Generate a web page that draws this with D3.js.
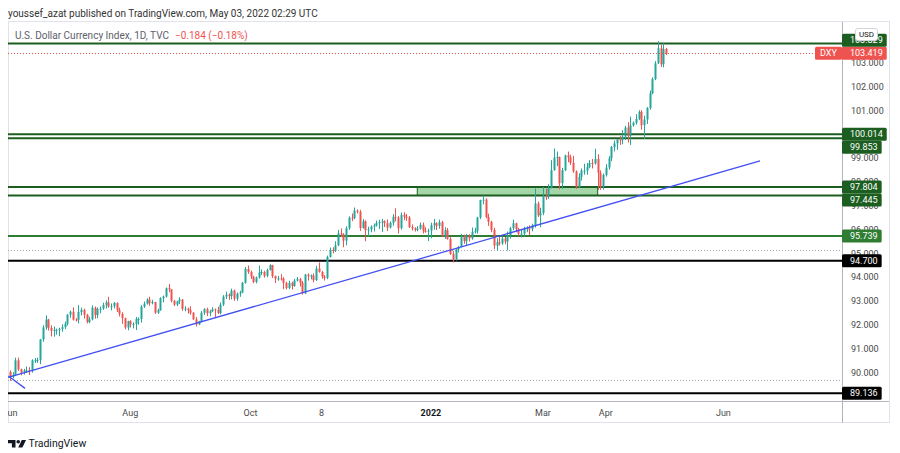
<!DOCTYPE html>
<html><head><meta charset="utf-8">
<script src="https://cdn.jsdelivr.net/npm/d3@7"></script>
<style>
html,body{margin:0;padding:0;background:#fff;}
svg{display:block;font-family:Roboto,"Liberation Sans",Arial,sans-serif;}
</style></head><body>
<svg id="c" width="900" height="453"></svg>
<script>
// Daily OHLC bars, 1 Jun 2021 .. 3 May 2022 (bar index = trading day)
const candles = [
[90.03,90.10,89.66,89.83],[89.83,90.02,89.76,89.91],[89.91,90.63,89.86,90.52],[90.52,90.63,90.08,90.14],
[90.14,90.17,89.89,90.00],[90.00,90.16,89.92,90.09],[90.09,90.26,89.99,90.10],[90.10,90.23,89.90,90.07],
[90.07,90.56,90.00,90.52],[90.52,90.61,90.41,90.52],[90.52,90.63,90.41,90.54],[90.54,91.41,90.36,91.40],
[91.40,91.99,91.30,91.90],[91.90,92.41,91.80,92.23],[92.23,92.26,91.77,91.88],[91.88,91.99,91.52,91.76],
[91.76,91.94,91.51,91.80],[91.80,91.85,91.60,91.80],[91.80,91.89,91.53,91.84],[91.84,92.03,91.72,91.91],
[91.91,92.15,91.83,92.06],[92.06,92.46,91.98,92.44],
[92.44,92.61,92.31,92.56],[92.56,92.74,92.19,92.23],[92.23,92.29,92.15,92.22],[92.22,92.84,92.07,92.55],
[92.55,92.73,92.40,92.64],[92.64,92.69,92.27,92.43],[92.43,92.47,92.07,92.13],[92.13,92.35,92.08,92.24],
[92.24,92.83,92.20,92.73],[92.73,92.78,92.27,92.42],[92.42,92.74,92.29,92.68],[92.68,92.78,92.50,92.69],
[92.69,92.94,92.64,92.85],[92.85,93.04,92.70,92.95],[92.95,93.19,92.73,92.78],[92.78,92.91,92.62,92.79],
[92.79,92.97,92.70,92.93],[92.93,92.95,92.55,92.64],[92.64,92.73,92.36,92.47],[92.47,92.54,92.05,92.29],
[92.29,92.31,91.82,91.90],[91.90,92.18,91.78,92.17],
[92.17,92.20,91.90,92.03],[92.03,92.12,91.86,92.05],[92.05,92.34,91.79,92.26],[92.26,92.32,92.02,92.26],
[92.26,92.84,92.10,92.78],[92.78,92.99,92.72,92.90],[92.90,93.13,92.86,93.07],[93.07,93.19,92.81,92.92],
[92.92,93.06,92.87,92.97],[92.97,92.98,92.47,92.52],[92.52,92.69,92.47,92.63],[92.63,93.17,92.60,93.13],
[93.13,93.24,92.96,93.20],[93.20,93.58,93.16,93.55],[93.55,93.73,93.38,93.50],[93.50,93.51,92.95,93.02],
[93.02,93.05,92.80,92.86],[92.86,93.02,92.80,93.00],[93.00,93.17,92.88,93.07],[93.07,93.09,92.60,92.68],
[92.68,92.79,92.58,92.69],[92.69,92.73,92.48,92.63],
[92.63,92.79,92.44,92.52],[92.52,92.54,92.22,92.24],[92.24,92.34,91.94,92.03],[92.03,92.18,92.00,92.16],
[92.16,92.59,92.12,92.52],[92.52,92.71,92.43,92.67],[92.67,92.73,92.38,92.50],[92.50,92.64,92.37,92.58],
[92.58,92.75,92.55,92.66],[92.66,92.70,92.32,92.63],[92.63,92.77,92.46,92.51],[92.51,92.95,92.45,92.86],
[92.86,93.26,92.80,93.20],[93.20,93.41,93.09,93.28],[93.28,93.33,93.06,93.22],[93.22,93.53,93.08,93.45],
[93.45,93.49,93.02,93.11],[93.11,93.37,93.02,93.32],[93.32,93.44,93.19,93.37],[93.37,93.81,93.34,93.78],
[93.78,94.44,93.74,94.36],[94.36,94.50,94.15,94.23],
[94.23,94.29,93.94,94.04],[94.04,94.07,93.76,93.81],[93.81,94.04,93.75,94.00],[94.00,94.50,93.95,94.21],
[94.21,94.34,94.10,94.23],[94.23,94.28,93.99,94.07],[94.07,94.37,94.01,94.31],[94.31,94.56,94.29,94.52],
[94.52,94.53,93.98,94.06],[94.06,94.08,93.77,93.95],[93.95,94.07,93.86,93.96],[93.96,94.14,93.87,93.95],
[93.95,94.01,93.51,93.77],[93.77,93.82,93.50,93.56],[93.56,93.86,93.51,93.77],[93.77,93.82,93.49,93.64],
[93.64,93.94,93.61,93.87],[93.87,94.02,93.83,93.93],[93.93,93.98,93.62,93.78],[93.78,93.85,93.28,93.33],
[93.33,94.15,93.31,94.12],
[94.12,94.17,93.87,94.05],[94.05,94.13,93.92,94.08],[94.08,94.17,93.80,93.89],[93.89,94.49,93.86,94.38],
[94.38,94.63,94.20,94.23],[94.23,94.27,93.95,94.04],[94.04,94.10,93.87,93.98],[93.98,94.92,93.93,94.86],
[94.86,95.26,94.84,95.15],[95.15,95.27,95.01,95.12],[95.12,95.52,95.07,95.35],[95.35,96.00,95.32,95.85],
[95.85,96.06,95.70,95.82],[95.82,95.86,95.27,95.55],[95.55,96.15,95.35,96.07],[96.07,96.57,96.00,96.51],
[96.51,96.69,96.37,96.50],[96.50,96.94,96.45,96.81],[96.81,96.86,96.69,96.76],[96.76,96.84,95.96,96.08],
[96.08,96.46,96.05,96.36],[96.36,96.40,95.52,95.99],
[95.99,96.13,95.73,96.02],[96.02,96.19,95.90,96.14],[96.14,96.27,95.93,96.19],[96.19,96.39,96.14,96.28],
[96.28,96.43,96.04,96.33],[96.33,96.46,95.92,96.36],[96.36,96.40,96.12,96.28],[96.28,96.44,95.95,96.10],
[96.10,96.35,96.06,96.30],[96.30,96.66,96.18,96.55],[96.55,96.91,96.36,96.52],[96.52,96.58,95.85,96.07],
[96.07,96.73,96.01,96.63],[96.63,96.74,96.41,96.55],[96.55,96.67,96.38,96.52],[96.52,96.58,96.08,96.12],
[96.12,96.23,95.97,96.06],[96.06,96.11,95.93,96.00],[96.00,96.16,95.94,96.05],[96.05,96.31,96.01,96.21],
[96.21,96.31,95.85,95.96],[95.96,96.11,95.88,95.94],[95.94,96.05,95.53,95.97],
[95.97,96.30,95.65,96.20],[96.20,96.46,96.01,96.28],[96.28,96.32,95.99,96.17],[96.17,96.43,96.05,96.32],
[96.32,96.38,95.71,95.73],[95.73,96.11,95.62,95.99],[95.99,96.08,95.59,95.62],[95.62,95.69,94.95,94.99],
[94.99,95.12,94.63,94.77],[94.77,95.22,94.71,95.17],[95.17,95.32,95.05,95.28],[95.28,95.83,95.27,95.74],
[95.74,95.80,95.42,95.53],[95.53,95.83,95.32,95.78],[95.78,95.82,95.51,95.64],[95.64,96.10,95.59,95.92],
[95.92,96.09,95.85,95.95],[95.95,96.55,95.84,96.52],[96.52,97.27,96.45,97.25],[97.25,97.44,97.07,97.27],
[97.27,97.33,96.49,96.54],
[96.54,96.68,96.17,96.34],[96.34,96.38,95.90,96.00],[96.00,96.09,95.19,95.34],[95.34,95.65,95.14,95.48],
[95.48,95.70,95.34,95.43],[95.43,95.73,95.37,95.64],[95.64,95.70,95.39,95.51],[95.51,95.93,95.14,95.78],
[95.78,96.13,95.63,96.07],[96.07,96.43,95.99,96.28],[96.28,96.30,95.90,96.03],[96.03,96.09,95.73,95.84],
[95.84,96.03,95.68,95.84],[95.84,96.13,95.72,96.04],[96.04,96.15,95.90,96.06],[96.06,96.19,95.78,96.03],
[96.03,96.26,95.94,96.19],[96.19,97.74,96.10,97.11],[97.11,97.19,96.54,96.61],[96.61,96.93,96.11,96.71],
[96.71,97.80,96.62,97.41],[97.41,97.72,97.26,97.39],[97.39,97.92,97.30,97.77],[97.77,98.93,97.74,98.51],
[98.51,99.42,98.49,99.04],[99.04,99.29,98.68,99.06],[99.06,99.08,97.70,97.96],[97.96,98.61,97.72,98.51],
[98.51,99.16,98.47,99.13],[99.13,99.29,98.84,99.05],[99.05,99.16,98.73,98.82],[98.82,99.11,98.40,98.46],
[98.46,98.50,97.72,97.79],[97.79,98.38,97.76,98.23],[98.23,98.58,98.07,98.49],[98.49,98.78,98.32,98.49],
[98.49,98.81,98.32,98.64],[98.64,98.93,98.59,98.81],[98.81,98.98,98.58,98.79],[98.79,99.41,98.74,98.98],
[98.98,99.18,97.68,98.40],[98.40,98.50,97.68,97.81],[97.81,98.37,97.69,98.31],
[98.31,98.76,98.24,98.62],[98.62,99.10,98.53,99.01],[99.01,99.52,98.89,99.48],[99.48,99.75,99.30,99.63],
[99.63,99.83,99.37,99.80],[99.80,99.94,99.57,99.79],[99.79,100.19,99.60,99.92],[99.92,100.37,99.78,100.30],
[100.30,100.53,99.67,99.95],[99.95,100.76,99.57,100.39],[100.39,100.55,100.34,100.50],[100.50,100.86,100.43,100.66],
[100.66,101.03,100.61,100.96],[100.96,101.03,100.21,100.40],[100.40,100.80,99.82,100.64],[100.64,101.16,100.45,101.12],
[101.12,101.86,101.05,101.74],[101.74,102.41,101.70,102.34],[102.34,103.09,102.29,103.00],[103.00,103.93,102.97,103.63],
[103.63,103.78,102.85,102.96],[102.96,103.84,102.83,103.60],[103.60,103.65,103.35,103.42]
];

const timeTickLabels = ["Jun","Aug","Oct","8","2022","Mar","Apr","Jun"];
const timeTickBars   = [0, 44, 88, 114, 154, 195, 218, 261];
const timeTickBold   = [false,false,false,false,true,false,false,false];

const priceTicks = [90,91,92,93,94,95,96,97,98,99,100,101,102,103];

const levelPrices = [103.829, 100.014, 99.853, 97.804, 97.445, 95.739, 94.700, 89.136];
const levelColors = ["#1b5e20","#1b5e20","#1b5e20","#1b5e20","#1b5e20","#2e7d32","#000000","#000000"];
const lastPrice = 103.419;
const symbolName = "DXY";
const dottedPrices = [95.15, 89.70];

const zoneBars = [149, 215];
const zonePrices = [97.445, 97.804];
const trendBars = [-0.7, 274.4];
const trendPrices = [89.80, 98.90];
const rayBars = [-0.6, 5.5];
const rayPrices = [89.86, 89.34];

// ---------- layout ----------
const svg = d3.select("#c");
const L = 8, R = 842, T = 22, B = 401;
const x = d3.scaleLinear().domain([0, 240]).range([10, 666]);
const y = d3.scaleLinear().domain([88.81, 104.735]).range([B, T]);
const fmt = d3.format(".3f");

// header
svg.append("text").attr("x", 8).attr("y", 13.5).attr("dominant-baseline","central")
  .attr("font-size", 10).attr("fill", "#333").text("youssef_azat published on TradingView.com, May 03, 2022 02:29 UTC");

// frame
svg.append("rect").attr("x", 8.5).attr("y", 21.5).attr("width", 881).attr("height", 401)
  .attr("fill", "none").attr("stroke", "#e0e3eb");

svg.append("defs").append("clipPath").attr("id","pane").append("rect")
  .attr("x", L).attr("y", T).attr("width", R - L).attr("height", B - T);
const pane = svg.append("g").attr("clip-path","url(#pane)");

// dotted lines
pane.selectAll(".dot").data(dottedPrices).join("line")
  .attr("x1", L).attr("x2", R).attr("y1", d => Math.round(y(d)) + 0.5).attr("y2", d => Math.round(y(d)) + 0.5)
  .attr("stroke", "#a3a6af").attr("stroke-dasharray", "1,2");
pane.append("line").attr("x1", L).attr("x2", R)
  .attr("y1", Math.round(y(lastPrice)) + 0.5).attr("y2", Math.round(y(lastPrice)) + 0.5)
  .attr("stroke", "#ef5350").attr("stroke-dasharray", "1,2");

// zone rectangle
pane.append("rect").attr("x", x(zoneBars[0])).attr("width", x(zoneBars[1]) - x(zoneBars[0]))
  .attr("y", y(zonePrices[1])).attr("height", y(zonePrices[0]) - y(zonePrices[1]))
  .attr("fill", "#a5d6a7").attr("stroke", "#1b5e20").attr("stroke-width", 1);

// horizontal levels
pane.selectAll(".lvl").data(levelPrices).join("line")
  .attr("x1", L).attr("x2", R).attr("y1", d => y(d)).attr("y2", d => y(d))
  .attr("stroke", (d, i) => levelColors[i]).attr("stroke-width", 2);

// candles
const cg = pane.append("g");
const up = "#26a69a", dn = "#ef5350";
cg.selectAll(".w").data(candles).join("line")
  .attr("x1", (d, i) => Math.round(x(i)) + 0.5).attr("x2", (d, i) => Math.round(x(i)) + 0.5)
  .attr("y1", d => y(d[1])).attr("y2", d => y(d[2]))
  .attr("stroke", d => d[3] >= d[0] ? up : dn).attr("stroke-width", 1);
cg.selectAll(".b").data(candles).join("rect")
  .attr("x", (d, i) => Math.round(x(i)) - 0.5).attr("width", 2)
  .attr("y", d => y(Math.max(d[0], d[3])))
  .attr("height", d => Math.max(1, Math.abs(y(d[0]) - y(d[3]))))
  .attr("fill", d => d[3] >= d[0] ? up : dn);

// trend lines
const tl = d3.line().x(d => x(d[0])).y(d => y(d[1]));
pane.append("path").attr("d", tl(trendBars.map((b, i) => [b, trendPrices[i]])))
  .attr("stroke", "#4350f2").attr("stroke-width", 1.3).attr("fill", "none");
pane.append("path").attr("d", tl(rayBars.map((b, i) => [b, rayPrices[i]])))
  .attr("stroke", "#4350f2").attr("stroke-width", 1.3).attr("fill", "none");

// legend
const lg = svg.append("text").attr("x", 15).attr("y", 35).attr("dominant-baseline","central").attr("font-size", 10);
lg.append("tspan").attr("fill", "#5d606b").text("U.S. Dollar Currency Index, 1D, TVC");
lg.append("tspan").attr("fill", "#ef5350").attr("dx", 6).text("\u22120.184 (\u22120.18%)");

// axes lines
svg.append("line").attr("x1", R + 0.5).attr("x2", R + 0.5).attr("y1", T).attr("y2", 423).attr("stroke", "#b2b5be");
svg.append("line").attr("x1", L).attr("x2", 889).attr("y1", B + 0.5).attr("y2", B + 0.5).attr("stroke", "#b2b5be");

// price ticks
svg.append("g").selectAll("text").data(priceTicks).join("text")
  .attr("x", 851).attr("y", d => y(d)).attr("dominant-baseline","central")
  .attr("font-size", 9).attr("fill", "#4a4a4a").text(d => fmt(d));

// time ticks
const tclip = svg.append("defs").append("clipPath").attr("id","tax");
tclip.append("rect").attr("x", L).attr("y", B).attr("width", R - L).attr("height", 22);
svg.append("g").attr("clip-path","url(#tax)").selectAll("text").data(timeTickLabels).join("text")
  .attr("x", (d, i) => x(timeTickBars[i])).attr("y", 412.5).attr("text-anchor","middle")
  .attr("dominant-baseline","central").attr("font-size", 9)
  .attr("font-weight", (d, i) => timeTickBold[i] ? "bold" : "normal")
  .attr("fill", (d, i) => timeTickBold[i] ? "#131722" : "#4a4a4a").text(d => d);

// price labels with collision avoidance
const H = 13;
const labels = levelPrices.map((p, i) => ({p, color: levelColors[i], y0: y(p), fixed: false}));
labels.push({p: lastPrice, color: "#ef5350", y0: y(lastPrice), fixed: true, last: true});
const placed = labels.filter(l => l.fixed).map(l => (l.y = l.y0, l));
labels.filter(l => !l.fixed).sort((a, b) => a.y0 - b.y0).forEach(l => {
  l.y = l.y0;
  for (let k = 0; k < 5; k++) {
    let moved = false;
    placed.forEach(o => {
      if (Math.abs(l.y - o.y) < H) {
        l.y = l.y0 < o.y0 ? o.y - H : o.y + H;
        moved = true;
      }
    });
    if (!moved) break;
  }
  placed.push(l);
});
const lgG = svg.append("g");
placed.forEach(l => {
  const g = lgG.append("g");
  const t = g.append("text").attr("x", 850).attr("y", l.y).attr("dominant-baseline","central")
    .attr("font-size", 9).attr("fill", "#fff").text(fmt(l.p));
  const w = t.node().getComputedTextLength();
  g.insert("rect", "text").attr("x", R).attr("y", l.y - H / 2).attr("width", w + 12).attr("height", H)
    .attr("rx", 1.5).attr("fill", l.color);
  if (l.last) {
    const g2 = lgG.append("g");
    g2.append("rect").attr("x", R - 27).attr("y", l.y - H / 2).attr("width", 27).attr("height", H)
      .attr("rx", 1.5).attr("fill", l.color);
    g2.append("text").attr("x", R - 13.5).attr("y", l.y).attr("text-anchor","middle")
      .attr("dominant-baseline","central").attr("font-size", 9).attr("fill", "#fff").text(symbolName);
  }
});

// USD badge
svg.append("rect").attr("x", 855.5).attr("y", 28.5).attr("width", 22).attr("height", 12).attr("rx", 2.5)
  .attr("fill", "#fff").attr("stroke", "#d1d4dc");
svg.append("text").attr("x", 866.5).attr("y", 34.5).attr("text-anchor","middle").attr("dominant-baseline","central")
  .attr("font-size", 8).attr("fill", "#131722").text("USD");

// footer logo
const lg2 = svg.append("g").attr("fill", "#131722");
lg2.append("path").attr("d", "M8,440 h7.5 v7.5 h-3.6 v-4.2 h-3.9 z");
lg2.append("circle").attr("cx", 18.2).attr("cy", 441.8).attr("r", 1.8);
lg2.append("path").attr("d", "M21.8,440 h4.2 l-3.6,7.5 h-4.2 z");
svg.append("text").attr("x", 28.5).attr("y", 443.5).attr("dominant-baseline","central")
  .attr("font-size", 10.5).attr("fill", "#131722").text("TradingView");
</script>
</body></html>
